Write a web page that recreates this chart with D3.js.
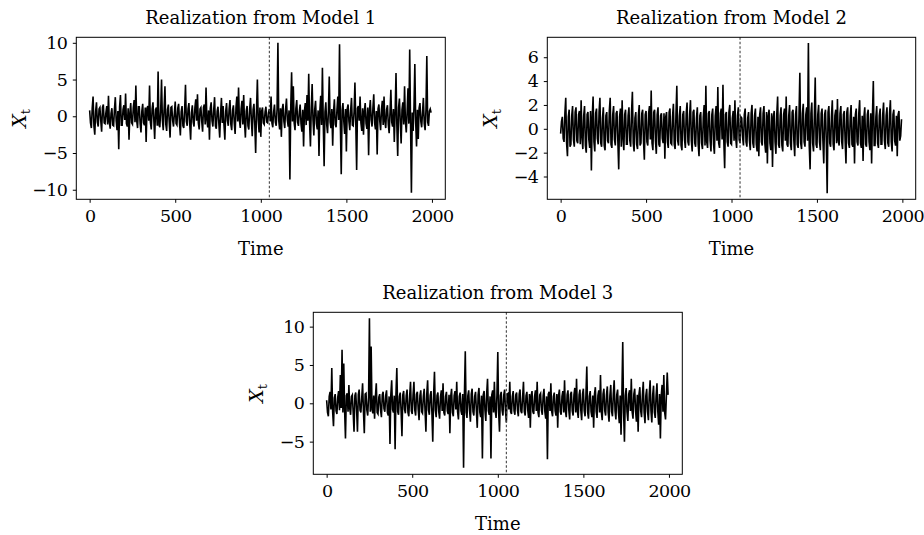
<!DOCTYPE html>
<html>
<head>
<meta charset="utf-8">
<script src="https://cdn.jsdelivr.net/npm/d3@7"></script>
<style>
  body { margin: 0; background: #fff; }
  text { font-family: "DejaVu Serif", serif; fill: #000; }
</style>
</head>
<body>
<script>
const svgW = 924;
const svgH = 535;

// readings every 10 time steps (t = 0, 10, ..., 1990): the peaks
// plus the inner band read in between (t = 5, 15, ..., 1995)
const step = 10;
const xTicks = [0, 500, 1000, 1500, 2000];
const breakTime = 1050; // dashed line

const model1 = [
  0.8, -1.6, 2.7, -2.5, 1.9, -1.4, 1.2, -2.1, 1.6, -1.0,
  1.4, 2.8, -1.7, 1.1, -1.3, 2.6, -1.9, -4.5, 2.9, -1.2,
  1.5, 3.1, -1.4, -3.2, 1.8, -1.1, 2.2, 4.2, -1.6, 1.3,
  -2.2, 1.7, -1.2, -3.5, 1.4, 4.2, -1.8, 1.9, -3.1, 1.2,
  6.1, -1.5, 5.0, -1.9, 4.1, -2.0, 1.6, -2.9, 1.3, -1.4,
  2.0, -1.2, 1.7, -2.6, 1.4, -1.6, 4.3, -1.3, 1.8, -3.2,
  1.5, -1.4, 2.3, 3.0, -1.8, 1.2, -2.1, 1.6, 3.9, -1.5,
  -3.2, 1.9, -1.4, 2.6, -1.7, 1.3, -2.9, 2.5, 1.4, -3.2,
  1.8, -1.3, 2.2, -1.9, 1.5, -2.4, 2.7, 3.9, -1.6, 2.1,
  2.9, -2.9, 1.4, -1.8, 2.5, -2.7, 1.7, -5.0, 5.0, -2.2,
  -2.8, 1.2, -1.1, 1.3, -0.9, 1.0, 2.7, -1.5, 1.6, -1.3,
  10.0, -1.8, -2.8, 1.7, -1.6, 2.4, -1.4, -8.6, 6.0, 4.1,
  -1.9, 2.2, -1.3, 1.6, -2.1, -4.1, 1.8, 2.9, 5.8, -4.1,
  4.4, -2.6, 2.1, -1.8, -5.4, 2.8, 6.6, -6.8, 1.9, -2.3,
  5.4, -1.6, -4.0, 2.3, -1.5, 2.7, 9.8, -7.9, 1.8, -2.4,
  -4.8, 1.6, -1.9, 2.5, -1.3, 4.6, -7.3, 1.4, 2.7, -2.0,
  -2.5, 1.8, -1.7, -5.3, 2.2, -1.4, 3.0, -1.8, -5.2, 1.6,
  -1.9, 2.1, 2.7, -1.6, 1.5, -2.3, 3.6, -1.4, -3.5, 5.9,
  -5.4, 2.4, -3.7, 1.9, 4.1, -2.2, 3.8, 9.1, -10.4, -2.0,
  7.1, -4.1, -3.1, 1.8, -1.5, 2.5, -1.9, 8.2, -1.3, 1.0
];
const model1Band = [
  -0.9, 1.1, -1.3, 0.7, -0.8, 1.0, -0.6, 1.2, -0.9, 0.5,
  -1.1, -0.8, 0.4, -1.2, 1.0, -0.6, 0.7, 1.3, -1.2, 0.9,
  -0.5, -1.0, 1.1, 0.4, -0.9, 1.2, -0.8, -0.6, 1.3, -1.0,
  0.7, -0.9, 1.2, 1.1, -0.6, -0.8, 1.0, -0.5, 0.9, -1.3,
  -1.2, 0.7, -0.5, 1.0, -1.1, 0.9, -0.8, 1.2, -0.6, 0.4,
  -1.0, 1.1, -0.9, 0.6, -1.3, 0.8, -0.7, 1.0, -1.1, 0.5,
  -0.8, 1.2, -0.6, -0.9, 1.0, -0.7, 1.2, -1.1, -0.5, 0.8,
  1.1, -0.6, 0.9, -1.3, 0.7, -1.0, 0.4, -0.9, -1.2, 0.7,
  -0.6, 1.0, -1.1, 0.8, -0.9, 1.2, -0.7, -0.5, 1.0, -1.1,
  -0.9, 0.7, -1.3, 1.0, -0.6, 0.9, -1.1, 0.8, -0.5, 1.2,
  0.7, -0.9, 0.6, -0.8, 0.5, -0.7, -0.9, 0.6, -0.8, 1.0,
  -0.6, 1.1, 0.9, -0.7, 1.0, -0.5, 0.8, 1.2, -0.7, -0.9,
  1.1, -0.8, 0.6, -1.0, 0.9, 0.7, -1.2, -0.6, -0.8, 1.1,
  -0.5, 0.9, -1.0, 0.8, 0.7, -1.2, -0.9, 0.6, -1.1, 0.7,
  -0.8, 1.0, 0.6, -1.1, 0.9, -0.5, -1.2, 0.8, -0.7, 1.0,
  1.0, -0.7, 0.8, -1.2, 0.6, -0.9, 1.1, -0.6, -0.9, 1.1,
  0.7, -1.0, 1.2, 0.8, -0.5, 1.1, -0.9, 0.7, 1.0, -0.6,
  0.9, -1.2, -0.7, 0.9, -1.1, 0.5, -0.8, 1.0, 0.6, -1.3,
  1.2, -0.8, 0.9, -1.1, -0.7, 0.6, -1.0, -0.9, 0.5, 1.2,
  -0.8, 0.9, 1.1, -0.7, 0.6, -1.0, 0.9, -0.8, 0.7, 0.5
];

const model2 = [
  -0.4, 1.0, -1.1, 2.6, -2.3, 1.6, -1.3, 1.9, -1.5, 1.8,
  -1.2, 1.5, 2.4, -1.7, 1.9, -2.0, 1.4, -1.6, -3.5, 2.7,
  -1.9, 1.7, -1.3, 2.6, -1.5, 1.8, -1.8, 1.4, -1.2, 2.6,
  -1.6, 1.9, -1.4, 1.5, -3.4, 1.7, 2.4, -1.8, 1.6, -1.3,
  1.8, -1.5, 3.1, -1.9, 1.4, -1.7, 2.0, -1.2, 1.6, -2.6,
  1.5, -1.4, 1.9, 3.2, -1.8, 1.6, -2.1, 1.8, -1.5, 1.3,
  -1.2, -2.5, 1.4, -1.6, 1.7, -1.3, 2.1, -1.7, 3.6, -1.4,
  1.9, -1.8, 1.5, -1.6, 2.2, -1.4, 2.4, -1.9, 1.6, -1.5,
  1.8, -2.3, 1.4, -1.7, 2.0, 3.6, -1.6, 1.5, -1.9, 1.7,
  -2.1, 1.9, 3.5, -1.6, 1.7, 3.7, -3.3, 1.4, -1.5, 2.0,
  -1.3, 1.5, 2.4, -1.6, 1.8, -1.2, 0.9, -1.4, 1.7, -1.5,
  1.4, -1.8, 2.0, -1.6, 1.7, -1.9, -2.3, 1.8, -1.4, 1.9,
  -2.0, -2.9, 1.6, -1.8, -3.2, 1.5, -2.1, 2.7, -1.6, 1.8,
  -1.9, 1.7, 2.7, -1.5, 2.0, -1.8, 1.6, -2.3, 1.9, -1.6,
  4.7, -1.7, 2.1, -1.5, 1.8, 7.2, -3.4, 2.2, -1.9, 4.3,
  -1.6, 2.0, -1.8, 1.7, -2.9, 1.6, -5.4, 1.9, -1.5, 2.4,
  -1.8, 1.6, 2.5, -1.4, 1.9, -1.7, 1.5, -2.9, 1.8, -1.6,
  2.0, -1.5, -2.9, 1.7, -1.4, 2.4, -1.6, -2.7, 1.8, -1.5,
  1.6, -1.8, -2.9, 4.0, -1.4, 1.9, -1.6, 1.7, -1.3, 2.2,
  -1.7, 1.8, -1.5, 2.4, -1.9, 1.6, -1.4, -2.3, 1.5, -0.6
];
const model2Band = [
  0.6, -0.8, 1.3, -1.2, 1.0, -1.5, 1.1, -0.9, 1.4, -1.0,
  1.2, -1.3, -0.7, 1.1, -1.4, 1.2, -0.9, 1.5, 1.0, -1.1,
  1.3, -0.8, 1.4, -1.2, 0.9, -1.4, 1.1, -1.0, 1.5, -1.3,
  1.2, -0.9, 1.3, -1.1, 1.0, -1.5, -0.8, 1.2, -1.3, 1.1,
  -1.0, 1.4, -1.2, 0.9, -1.3, 1.1, -1.4, 1.3, -1.0, 1.2,
  -1.1, 1.3, -0.9, -1.2, 1.4, -1.0, 1.2, -1.3, 1.1, -0.8,
  1.3, 1.0, -1.1, 1.4, -1.2, 1.0, -1.3, 1.2, -1.0, 1.1,
  -1.4, 1.2, -0.9, 1.3, -1.1, 1.2, -1.0, 1.4, -1.2, 0.9,
  -1.3, 1.1, -1.2, 1.0, -1.4, -1.1, 1.3, -1.0, 1.2, -1.3,
  1.1, -1.0, -1.2, 1.3, -0.9, -1.0, 1.2, -1.1, 1.4, -1.2,
  0.9, -1.0, -0.8, 1.1, -0.9, 1.0, -0.7, 1.2, -1.1, 0.9,
  -1.0, 1.3, -1.2, 1.1, -1.3, 1.0, 1.2, -1.1, 1.3, -1.2,
  1.4, 1.1, -1.2, 1.3, 1.0, -1.1, 1.2, -1.3, 1.1, -1.4,
  1.2, -1.0, -1.3, 1.1, -1.2, 1.4, -1.0, 1.2, -1.3, 1.1,
  -1.2, 1.3, -1.1, 1.2, -1.0, -1.4, 1.3, -1.2, 1.1, -1.3,
  1.2, -1.1, 1.3, -1.0, 1.2, -1.1, 1.4, -1.2, 1.0, -1.3,
  1.1, -1.2, -1.0, 1.3, -1.1, 1.2, -1.0, 1.4, -1.2, 1.1,
  -1.3, 1.0, 1.2, -1.1, 1.3, -1.2, 1.1, 1.0, -1.3, 1.2,
  -1.1, 1.3, 1.2, -1.4, 1.0, -1.2, 1.1, -1.3, 1.2, -1.0,
  1.1, -1.2, 1.3, -1.1, 1.2, -1.0, 1.1, 1.2, -1.0, 0.8
];

const model3 = [
  0.4, -1.7, 1.5, 4.6, -3.0, 1.2, -1.4, 1.6, 3.7, 7.0,
  5.2, -4.6, 1.3, 2.4, -1.5, 1.1, -3.7, 1.4, -3.7, 1.8,
  -1.2, 2.6, -3.9, 1.3, -1.6, 11.1, 7.4, -1.3, -2.0, 2.6,
  -1.4, 1.2, -1.8, 1.5, -1.1, 1.7, -1.6, -5.3, 3.0, -1.2,
  -6.0, 4.6, -1.5, 1.4, -4.3, 1.6, -1.3, 1.8, -1.7, 2.8,
  -1.4, 2.8, -1.6, 1.5, -2.2, 1.7, -1.3, 1.9, -3.7, 3.0,
  -1.5, 1.6, -5.0, 4.1, -1.8, 1.4, -2.0, 1.7, 2.6, -1.6,
  1.5, -1.4, -3.9, 1.9, -1.7, 1.6, 2.8, -2.1, 1.4, -1.5,
  -8.4, 6.8, -1.9, 1.7, -2.4, 1.9, -1.6, 1.5, -3.2, 2.0,
  -1.8, -7.2, 1.6, -2.3, 3.2, -1.5, -7.2, 1.7, 2.8, -1.9,
  6.7, -3.7, 1.5, -1.6, 1.8, -2.5, 1.3, 2.8, -1.4, 1.6,
  -1.5, 1.4, -1.7, 1.8, -1.3, 2.8, -1.6, 1.5, -1.9, -3.2,
  1.6, -1.4, 1.7, 2.8, -1.8, 1.3, -1.5, 1.9, -2.0, -7.3,
  1.5, 2.6, -1.7, 1.4, -1.6, -3.2, 1.8, -1.5, 1.6, 3.0,
  -1.8, 1.7, -2.1, 1.5, -1.6, 2.0, 3.2, -1.9, 1.8, -2.2,
  1.9, -1.7, 4.8, -2.0, 1.6, -1.8, -3.2, 2.1, -1.9, 1.7,
  3.7, -2.2, 1.9, -1.6, 2.2, -2.4, 2.4, -1.7, 3.0, -2.1,
  1.8, -2.6, -4.1, 8.0, -5.0, 2.0, -2.3, 1.7, 3.2, -2.0,
  1.9, -2.4, -3.7, 2.1, -1.8, 2.8, -2.6, 1.9, -2.2, 3.0,
  -2.5, 2.3, -1.9, 2.6, -2.8, -4.6, 2.4, 3.7, -2.1, 4.0
];
const model3Band = [
  -1.2, 0.9, -0.8, -1.1, 0.7, -1.0, 0.8, -0.9, -0.6, -1.2,
  -0.9, 1.0, -1.1, -0.7, 0.9, -1.2, 1.0, -0.8, 1.1, -0.9,
  0.7, -1.0, 1.2, -0.9, 0.8, -1.1, -0.8, 1.0, 0.9, -1.2,
  0.8, -0.9, 1.1, -0.7, 1.0, -1.2, 0.9, 1.1, -0.8, 1.0,
  1.2, -1.1, 0.9, -1.0, 1.1, -0.8, 1.0, -1.2, 0.9, -1.0,
  1.1, -0.9, 1.2, -0.8, 1.0, -1.1, 0.9, -1.0, 1.2, -0.9,
  1.0, -1.2, 1.1, -0.9, 1.0, -1.1, 0.8, -1.0, -1.2, 0.9,
  -1.0, 1.1, 0.9, -1.2, 1.0, -0.8, -1.1, 0.9, -1.0, 1.2,
  1.1, -1.2, 1.0, -0.9, 1.2, -1.1, 0.9, -1.0, 1.1, -1.2,
  1.0, 1.1, -0.9, 1.2, -1.0, 0.9, 1.1, -1.2, -1.0, 1.1,
  -1.2, 1.0, -0.9, 1.1, -1.0, 1.2, -0.8, -1.1, 0.9, -1.0,
  1.1, -0.9, 1.2, -1.0, 0.8, -1.1, 1.0, -0.9, 1.2, 1.0,
  -1.1, 0.9, -1.0, -1.2, 1.1, -0.9, 1.0, -1.1, 0.9, 1.2,
  -1.0, -1.1, 0.9, -1.0, 1.2, 1.0, -1.1, 0.9, -1.2, -1.0,
  1.1, -0.9, 1.2, -1.0, 1.1, -1.2, -1.0, 1.1, -0.9, 1.2,
  -1.0, 1.1, -1.2, 0.9, -1.1, 1.0, 1.2, -1.1, 1.0, -1.2,
  -1.1, 1.2, -1.0, 1.1, -1.2, 1.0, -1.1, 1.2, -1.0, 1.1,
  -1.2, 1.0, 1.1, -1.2, 1.0, -1.1, 1.2, -1.0, -1.1, 1.2,
  -1.0, 1.1, 1.2, -1.0, 1.1, -1.2, 1.0, -1.1, 1.2, -1.0,
  1.1, -1.2, 1.0, -1.1, 1.2, 1.0, -1.1, -1.2, 1.0, 1.1
];

const titles = ['Realization from Model 1', 'Realization from Model 2', 'Realization from Model 3'];
const yTicks1 = [-10, -5, 0, 5, 10];
const yTicks2 = [-4, -2, 0, 2, 4, 6];
const yTicks3 = [-5, 0, 5, 10];

// panel boxes (px) and axis limits
const panels = [
  { series: model1, band: model1Band, title: titles[0], yTicks: yTicks1, left: 76.3, top: 37.3, w: 369, h: 162, yDom: [-11.3, 10.75] },
  { series: model2, band: model2Band, title: titles[1], yTicks: yTicks2, left: 547.3, top: 37.3, w: 368.4, h: 162, yDom: [-5.91, 7.67] },
  { series: model3, band: model3Band, title: titles[2], yTicks: yTicks3, left: 313.3, top: 312.3, w: 369, h: 162, yDom: [-9.26, 11.87] }
];
const xDom = [-78, 2078];

const svg = d3.select('body')
  .append('svg')
  .attr('width', svgW)
  .attr('height', svgH);

panels.forEach(p => {
  const g = svg.append('g')
    .attr('transform', `translate(${p.left}, ${p.top})`);

  const xScale = d3.scaleLinear().domain(xDom).range([0, p.w]);
  const yScale = d3.scaleLinear().domain(p.yDom).range([p.h, 0]);

  // peaks at t = 10i, inner band readings at t = 10i + 5
  const pts = d3.merge(p.series.map((v, i) => [
    { t: i * step, v: v },
    { t: i * step + step / 2, v: p.band[i] }
  ]));

  const line = d3.line()
    .x(d => xScale(d.t))
    .y(d => yScale(d.v));

  g.append('path')
    .datum(pts)
    .attr('fill', 'none')
    .attr('stroke', '#000')
    .attr('stroke-width', 1.6)
    .attr('d', line);

  // dashed break line
  g.append('line')
    .attr('x1', xScale(breakTime)).attr('x2', xScale(breakTime))
    .attr('y1', 0).attr('y2', p.h)
    .attr('stroke', '#444')
    .attr('stroke-width', 1.1)
    .attr('stroke-dasharray', '2.5,2');

  // frame
  g.append('rect')
    .attr('width', p.w).attr('height', p.h)
    .attr('fill', 'none')
    .attr('stroke', '#000')
    .attr('stroke-width', 1);

  const xAxis = d3.axisBottom(xScale).tickValues(xTicks).tickFormat(d3.format('d')).tickSize(3.5).tickPadding(7);
  const yAxis = d3.axisLeft(yScale).tickValues(p.yTicks).tickSize(3.5).tickPadding(5.5);

  const gx = g.append('g').attr('transform', `translate(0, ${p.h})`).call(xAxis);
  const gy = g.append('g').call(yAxis);
  [gx, gy].forEach(a => {
    a.select('.domain').remove();
    a.selectAll('text')
      .style('font-family', '"DejaVu Serif", serif')
      .style('font-size', '17.5px')
      .style('letter-spacing', '-0.6px');
    a.selectAll('line').attr('stroke', '#000');
  });

  // title
  g.append('text')
    .attr('x', p.w / 2).attr('y', -13)
    .attr('text-anchor', 'middle')
    .style('font-size', '18px')
    .text(p.title);

  // x label
  g.append('text')
    .attr('x', p.w / 2).attr('y', p.h + 56)
    .attr('text-anchor', 'middle')
    .style('font-size', '18px')
    .text('Time');

  // y label
  const yl = g.append('text')
    .attr('transform', `translate(-50, ${p.h / 2}) rotate(-90)`)
    .attr('text-anchor', 'middle')
    .style('font-size', '19px');
  yl.append('tspan').style('font-style', 'italic').text('X');
  yl.append('tspan').attr('dy', 4).style('font-size', '13px').text('t');
});
</script>
</body>
</html>
